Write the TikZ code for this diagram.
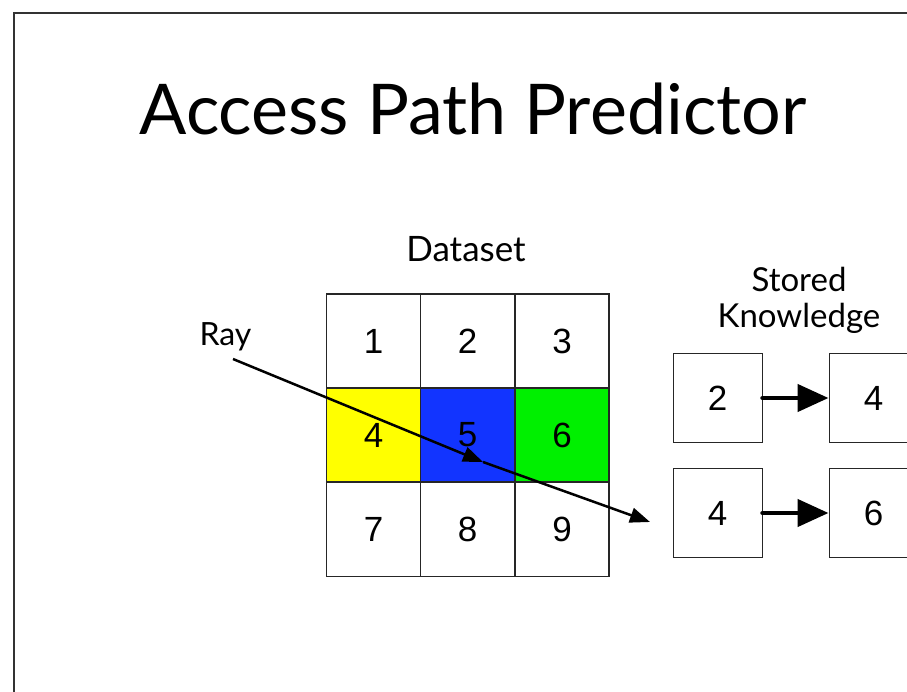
\documentclass[tikz,border=0pt]{standalone}
\usepackage{fontspec}
\setmainfont{Lato}
\newfontfamily\numfont{Liberation Sans}
\usetikzlibrary{arrows.meta}
\tikzset{
  cell/.style={draw=black!85,line width=1.3pt,minimum size=94pt,inner sep=0pt,font=\numfont\fontsize{35}{35}\selectfont},
  kbox/.style={draw=black!85,line width=1pt,minimum size=89pt,inner sep=0pt,font=\numfont\fontsize{35}{35}\selectfont},
  kedge/.style={line width=4.5pt,line cap=round,-{Triangle[length=31pt,width=27pt]}},
  rayline/.style={line width=2.5pt,-{Triangle[length=20pt,width=15pt]}}
}
\definecolor{cellyellow}{RGB}{255,255,0}
\definecolor{cellblue}{RGB}{18,52,255}
\definecolor{cellgreen}{RGB}{0,240,0}
\begin{document}
\begin{tikzpicture}[x=1pt,y=-1pt,>=latex]
\useasboundingbox (0,0) rectangle (907,692);
\clip (0,0) rectangle (907,692);
\fill[white](0,0) rectangle (907,692);
\draw[black!80,line width=1.5pt](14,692)--(14,13)--(910,13);
\node[anchor=base west,font=\fontsize{70}{70}\selectfont] (title) at (136,135) {Access Path Predictor};
% dataset grid
\node[anchor=base,font=\fontsize{35}{35}\selectfont] (dataset) at (466,262) {Dataset};
\foreach \n/\x/\y/\c in {1/373.5/341/white,2/467.5/341/white,3/562/341/white,
  4/373.5/435/cellyellow,5/467.5/435/cellblue,6/562/435/cellgreen,
  7/373.5/529.5/white,8/467.5/529.5/white,9/562/529.5/white}
{
    \node[cell,fill=\c] (c\n) at (\x,\y) {\n};
}
% stored knowledge
\node[align=center,font=\fontsize{33}{36}\selectfont,anchor=base] (stored) at (799,328) {Stored\\Knowledge};
\node[kbox] (k1a) at (717.5,398) {2};
\node[kbox] (k1b) at (873.5,398) {4};
\node[kbox] (k2a) at (717.5,513) {4};
\node[kbox] (k2b) at (873.5,513) {6};
\draw[kedge](k1a.east)--(k1b.west);
\draw[kedge](k2a.east)--(k2b.west);
% ray
\node[anchor=base west,font=\fontsize{32}{32}\selectfont] (ray) at (196,345) {Ray};
\coordinate (raystart) at (233,359);
\coordinate (raymid) at (483,462);
\coordinate (rayend) at (650,522);
\draw[rayline](raystart)--(raymid);
\draw[rayline](raymid)--(rayend);
\end{tikzpicture}
\end{document}
